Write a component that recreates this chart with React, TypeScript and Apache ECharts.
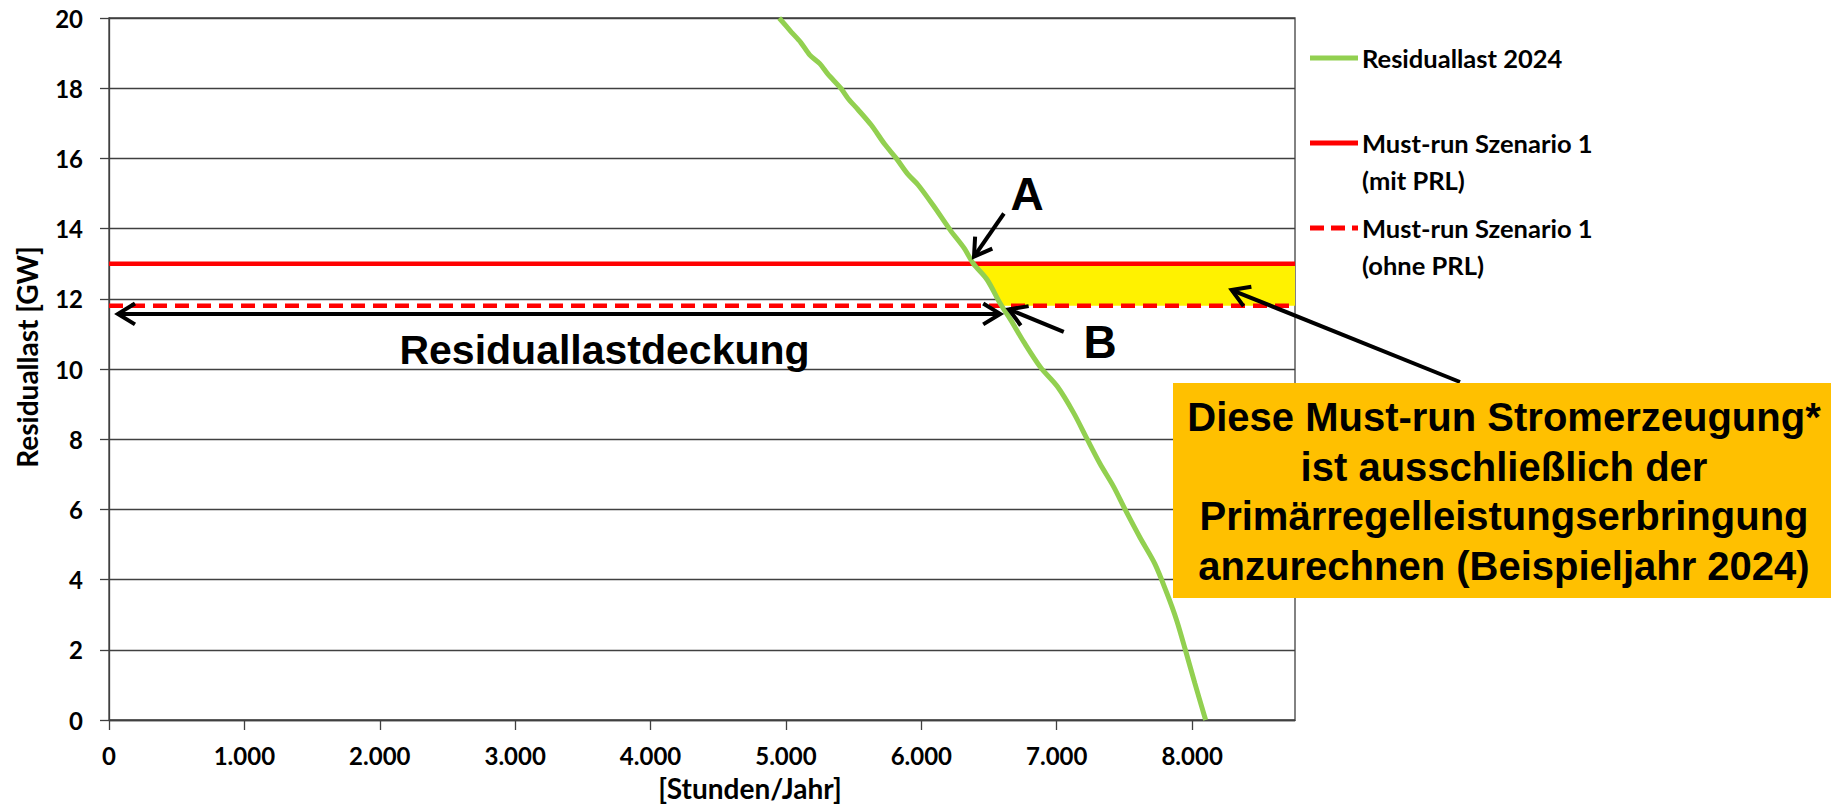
import React, { useEffect, useRef } from "react";
import * as echarts from "echarts";

// Residual load duration curve 2024 (hours per year -> GW)
const hours = [4950, 5040, 5110, 5175, 5250, 5310, 5405, 5460, 5530, 5630, 5730, 5815, 5900, 5975, 6090, 6215, 6315, 6385, 6485, 6585, 6660, 6760, 6880, 7005, 7125, 7225, 7320, 7420, 7505, 7615, 7725, 7815, 7885, 7950, 8020, 8100];
const residualGW = [20, 19.6, 19.3, 18.95, 18.7, 18.4, 18.0, 17.7, 17.4, 16.95, 16.4, 16.0, 15.55, 15.25, 14.65, 13.95, 13.45, 13.0, 12.55, 11.85, 11.4, 10.75, 10.05, 9.5, 8.75, 8.0, 7.3, 6.65, 6.0, 5.2, 4.45, 3.6, 2.85, 2.0, 1.05, 0];

const mustRunWithPRL = 13.0;
const mustRunWithoutPRL = 11.8;
const hoursPerYear = 8760;

const seriesNames = ["Residuallast 2024", "Must-run Szenario 1\n(mit PRL)", "Must-run Szenario 1\n(ohne PRL)"];
const xAxisName = "[Stunden/Jahr]";
const yAxisName = "Residuallast [GW]";
const boxText = "Diese Must-run Stromerzeugung*\nist ausschließlich der\nPrimärregelleistungserbringung\nanzurechnen (Beispieljahr 2024)";
const coverageLabel = "Residuallastdeckung";

// annotation anchors in data space [hours, GW]
const labelA = [6782, 15.0];
const arrowA = [[6610, 14.43], [6389, 13.2]];
const labelB = [7320, 10.78];
const arrowB = [[7052, 11.06], [6647, 11.7]];
const coverageArrow = [[66, 11.57], [6583, 11.57]];
const coverageText = [3660, 10.53];
const boxArrowTip = [8292, 12.25];

const GREEN = "#92D050";
const RED = "#FF0000";
const FONT = "Lato";

function fmtThousands(v: number) {
  if (v >= 1000) return `${Math.floor(v / 1000)}.${String(v % 1000).padStart(3, "0")}`;
  return String(v);
}

// polygon of the yellow band: curve between the two must-run levels, closed to the year end
function bandPolygon() {
  const interp = (level: number) => {
    for (let i = 0; i < residualGW.length - 1; i++) {
      const a = residualGW[i], b = residualGW[i + 1];
      if ((a - level) * (b - level) <= 0 && a !== b) {
        const t = (a - level) / (a - b);
        return hours[i] + t * (hours[i + 1] - hours[i]);
      }
    }
    return hours[hours.length - 1];
  };
  const pts: number[][] = [[interp(mustRunWithPRL), mustRunWithPRL]];
  for (let i = 0; i < hours.length; i++) {
    if (residualGW[i] < mustRunWithPRL && residualGW[i] > mustRunWithoutPRL) pts.push([hours[i], residualGW[i]]);
  }
  pts.push([interp(mustRunWithoutPRL), mustRunWithoutPRL]);
  pts.push([hoursPerYear, mustRunWithoutPRL]);
  pts.push([hoursPerYear, mustRunWithPRL]);
  return pts;
}

function arrowHead(tip: number[], from: number[], len = 20, ang = 0.55) {
  const dx = from[0] - tip[0], dy = from[1] - tip[1];
  const d = Math.hypot(dx, dy) || 1;
  const ux = dx / d, uy = dy / d;
  const rot = (a: number) => [tip[0] + len * (ux * Math.cos(a) - uy * Math.sin(a)), tip[1] + len * (ux * Math.sin(a) + uy * Math.cos(a))];
  return {
    type: "polyline",
    shape: { points: [rot(ang), tip, rot(-ang)] },
    style: { stroke: "#000", lineWidth: 4, fill: null, lineJoin: "miter" },
    z: 100,
  };
}

function arrow(from: number[], to: number[], both = false) {
  const els: any[] = [
    { type: "line", shape: { x1: from[0], y1: from[1], x2: to[0], y2: to[1] }, style: { stroke: "#000", lineWidth: 4 }, z: 100 },
    arrowHead(to, from),
  ];
  if (both) els.push(arrowHead(from, to));
  return els;
}

export default function App() {
  const ref = useRef<HTMLDivElement>(null);
  useEffect(() => {
    if (!ref.current) return;
    const chart = echarts.init(ref.current, null, { renderer: "svg" });
    const band = bandPolygon();
    const labelStyle = { fontFamily: FONT, fontWeight: "bold" as const, fontSize: 24, color: "#000" };
    chart.setOption({
      animation: false,
      backgroundColor: "#fff",
      grid: { left: 109, top: 18, width: 1186, height: 702, show: true, borderColor: "#404040", borderWidth: 1.3, backgroundColor: "transparent", outerBoundsMode: "none", containLabel: false },
      xAxis: {
        type: "value",
        min: 0,
        max: hoursPerYear,
        interval: 1000,
        name: xAxisName,
        nameLocation: "middle",
        nameGap: 54,
        nameTextStyle: { fontFamily: FONT, fontWeight: "bold", fontSize: 28, color: "#000", padding: [0, 0, 0, 96] },
        axisLine: { lineStyle: { color: "#404040", width: 1.3 } },
        axisTick: { show: true, length: 10, lineStyle: { color: "#404040", width: 1.3 } },
        axisLabel: { ...labelStyle, margin: 23, showMaxLabel: false, formatter: (v: number) => fmtThousands(v) },
        splitLine: { show: false },
      },
      yAxis: {
        type: "value",
        min: 0,
        max: 20,
        interval: 2,
        name: yAxisName,
        nameLocation: "middle",
        nameGap: 68,
        nameTextStyle: { fontFamily: FONT, fontWeight: "bold", fontSize: 28, color: "#000", padding: [0, 0, 0, 24] },
        axisLine: { show: true, lineStyle: { color: "#404040", width: 1.3 } },
        axisTick: { show: true, length: 9, lineStyle: { color: "#404040", width: 1.3 } },
        axisLabel: { ...labelStyle, margin: 26 },
        splitLine: { show: true, lineStyle: { color: "#404040", width: 1.3 } },
      },
      series: [
        {
          type: "custom",
          name: "band",
          z: 1,
          silent: true,
          data: [0],
          renderItem: (_params: any, api: any) => ({
            type: "polygon",
            shape: { points: band.map((p) => api.coord(p)) },
            style: { fill: "#FFF200", stroke: null },
          }),
        },
        {
          type: "line",
          name: seriesNames[1],
          z: 3,
          symbol: "none",
          data: [[0, mustRunWithPRL], [hoursPerYear, mustRunWithPRL]],
          lineStyle: { color: RED, width: 4.5 },
        },
        {
          type: "line",
          name: seriesNames[2],
          z: 3,
          symbol: "none",
          data: [[0, mustRunWithoutPRL], [hoursPerYear, mustRunWithoutPRL]],
          lineStyle: { color: RED, width: 4.5, type: [14, 8] },
        },
        {
          type: "line",
          name: seriesNames[0],
          z: 4,
          symbol: "none",
          smooth: 0.3,
          data: hours.map((h, i) => [h, residualGW[i]]),
          lineStyle: { color: GREEN, width: 5 },
        },
      ],
    });

    const px = (p: number[]) => chart.convertToPixel({ gridIndex: 0 }, p) as number[];
    const boxX = 1173, boxY = 383, boxW = 658, boxH = 215;
    const legendX = 1310;
    const legendItems = [
      { y: 58, color: GREEN, dash: null as any, text: seriesNames[0] },
      { y: 143, color: RED, dash: null as any, text: seriesNames[1] },
      { y: 228, color: RED, dash: [14, 7], text: seriesNames[2] },
    ];
    const graphic: any[] = [];
    legendItems.forEach((it) => {
      graphic.push({
        type: "line",
        shape: { x1: legendX, y1: it.y, x2: legendX + 48, y2: it.y },
        style: { stroke: it.color, lineWidth: 5, lineDash: it.dash },
      });
      graphic.push({
        type: "text",
        x: legendX + 52,
        y: it.y - 18,
        style: { text: it.text, fontFamily: FONT, fontWeight: "bold", fontSize: 25.5, lineHeight: 36.5, fill: "#000", verticalAlign: "top" },
      });
    });
    const a = px(labelA), b = px(labelB), ct = px(coverageText);
    graphic.push({ type: "text", x: a[0], y: a[1], style: { text: "A", font: "bold 46px 'Liberation Sans', Arial, sans-serif", fill: "#000", align: "center", verticalAlign: "middle" }, z: 100 });
    graphic.push({ type: "text", x: b[0], y: b[1], style: { text: "B", font: "bold 46px 'Liberation Sans', Arial, sans-serif", fill: "#000", align: "center", verticalAlign: "middle" }, z: 100 });
    graphic.push({ type: "text", x: ct[0], y: ct[1], style: { text: coverageLabel, font: "bold 41px 'Liberation Sans', Arial, sans-serif", fill: "#000", align: "center", verticalAlign: "middle" }, z: 100 });
    graphic.push(...arrow(px(arrowA[0]), px(arrowA[1])));
    graphic.push(...arrow(px(arrowB[0]), px(arrowB[1])));
    graphic.push(...arrow(px(coverageArrow[0]), px(coverageArrow[1]), true));
    graphic.push(...arrow([boxX + 287, boxY - 1], px(boxArrowTip)));
    graphic.push({ type: "rect", shape: { x: boxX, y: boxY, width: boxW, height: boxH }, style: { fill: "#FFC000" }, z: 110 });
    graphic.push({
      type: "text",
      x: boxX + boxW / 2 + 2,
      y: boxY + boxH / 2 + 1,
      z: 111,
      style: { text: boxText, font: "bold 40px 'Liberation Sans', Arial, sans-serif", lineHeight: 49.5, fill: "#000", align: "center", verticalAlign: "middle" },
    });
    chart.setOption({ graphic });
    return () => chart.dispose();
  }, []);
  return <div ref={ref} style={{ position: "fixed", left: 0, top: 0, width: 1831, height: 808, background: "#fff" }} />;
}
